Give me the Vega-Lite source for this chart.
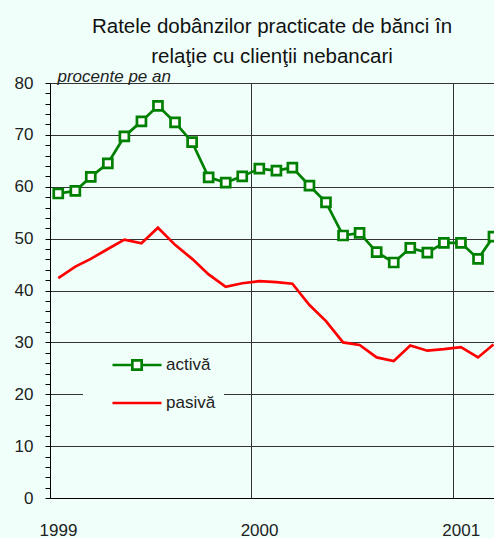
{
  "$schema": "https://vega.github.io/schema/vega-lite/v6.json",
  "width": 444,
  "height": 415,
  "autosize": {"type": "none"},
  "padding": {"left": 50, "top": 83, "right": 0, "bottom": 40},
  "background": "#f0fffa",
  "title": {
    "text": ["Ratele dobânzilor practicate de bănci în", "relaţie cu clienţii nebancari"],
    "font": "Liberation Sans",
    "fontSize": 20.5,
    "fontWeight": "normal",
    "color": "#111",
    "lineHeight": 30,
    "anchor": "middle",
    "offset": 0
  },
  "config": {
    "view": {"fill": "#f0fffa", "stroke": null},
    "font": "Liberation Sans"
  },
  "data": {
    "values": [
      {"date": "1999-01-16", "serie": "activă", "rata": 58.7},
      {"date": "1999-02-16", "serie": "activă", "rata": 59.2},
      {"date": "1999-03-16", "serie": "activă", "rata": 61.9},
      {"date": "1999-04-16", "serie": "activă", "rata": 64.5},
      {"date": "1999-05-16", "serie": "activă", "rata": 69.7},
      {"date": "1999-06-16", "serie": "activă", "rata": 72.6},
      {"date": "1999-07-16", "serie": "activă", "rata": 75.6},
      {"date": "1999-08-16", "serie": "activă", "rata": 72.4},
      {"date": "1999-09-16", "serie": "activă", "rata": 68.6},
      {"date": "1999-10-16", "serie": "activă", "rata": 61.8},
      {"date": "1999-11-16", "serie": "activă", "rata": 60.8},
      {"date": "1999-12-16", "serie": "activă", "rata": 62.0},
      {"date": "2000-01-16", "serie": "activă", "rata": 63.5},
      {"date": "2000-02-16", "serie": "activă", "rata": 63.1},
      {"date": "2000-03-16", "serie": "activă", "rata": 63.7},
      {"date": "2000-04-16", "serie": "activă", "rata": 60.2},
      {"date": "2000-05-16", "serie": "activă", "rata": 57.0},
      {"date": "2000-06-16", "serie": "activă", "rata": 50.6},
      {"date": "2000-07-16", "serie": "activă", "rata": 51.1},
      {"date": "2000-08-16", "serie": "activă", "rata": 47.4},
      {"date": "2000-09-16", "serie": "activă", "rata": 45.4},
      {"date": "2000-10-16", "serie": "activă", "rata": 48.2},
      {"date": "2000-11-16", "serie": "activă", "rata": 47.3},
      {"date": "2000-12-16", "serie": "activă", "rata": 49.2},
      {"date": "2001-01-16", "serie": "activă", "rata": 49.2},
      {"date": "2001-02-16", "serie": "activă", "rata": 46.1},
      {"date": "2001-03-16", "serie": "activă", "rata": 50.4},
      {"date": "1999-01-16", "serie": "pasivă", "rata": 42.4},
      {"date": "1999-02-16", "serie": "pasivă", "rata": 44.6},
      {"date": "1999-03-16", "serie": "pasivă", "rata": 46.1},
      {"date": "1999-04-16", "serie": "pasivă", "rata": 48.0},
      {"date": "1999-05-16", "serie": "pasivă", "rata": 49.8},
      {"date": "1999-06-16", "serie": "pasivă", "rata": 49.1},
      {"date": "1999-07-16", "serie": "pasivă", "rata": 52.1},
      {"date": "1999-08-16", "serie": "pasivă", "rata": 48.8},
      {"date": "1999-09-16", "serie": "pasivă", "rata": 46.1},
      {"date": "1999-10-16", "serie": "pasivă", "rata": 43.1},
      {"date": "1999-11-16", "serie": "pasivă", "rata": 40.7},
      {"date": "1999-12-16", "serie": "pasivă", "rata": 41.4},
      {"date": "2000-01-16", "serie": "pasivă", "rata": 41.8},
      {"date": "2000-02-16", "serie": "pasivă", "rata": 41.6},
      {"date": "2000-03-16", "serie": "pasivă", "rata": 41.3},
      {"date": "2000-04-16", "serie": "pasivă", "rata": 37.2},
      {"date": "2000-05-16", "serie": "pasivă", "rata": 34.1},
      {"date": "2000-06-16", "serie": "pasivă", "rata": 30.0},
      {"date": "2000-07-16", "serie": "pasivă", "rata": 29.5},
      {"date": "2000-08-16", "serie": "pasivă", "rata": 27.1},
      {"date": "2000-09-16", "serie": "pasivă", "rata": 26.4},
      {"date": "2000-10-16", "serie": "pasivă", "rata": 29.4},
      {"date": "2000-11-16", "serie": "pasivă", "rata": 28.4},
      {"date": "2000-12-16", "serie": "pasivă", "rata": 28.7},
      {"date": "2001-01-16", "serie": "pasivă", "rata": 29.1},
      {"date": "2001-02-16", "serie": "pasivă", "rata": 27.1},
      {"date": "2001-03-16", "serie": "pasivă", "rata": 29.6}
    ]
  },
  "encoding": {
    "x": {
      "field": "date",
      "type": "temporal",
      "scale": {"type": "utc", "domain": [{"year": 1999, "month": 1, "date": 1, "utc": true}, {"year": 2001, "month": 3, "date": 17, "utc": true}]},
      "axis": {
        "title": null,
        "values": [
          {"year": 1999, "month": 1, "date": 1, "utc": true},
          {"year": 2000, "month": 1, "date": 1, "utc": true},
          {"year": 2001, "month": 1, "date": 1, "utc": true}
        ],
        "format": "%Y",
        "grid": true,
        "gridColor": "#333",
        "gridWidth": 1,
        "gridOpacity": 1,
        "ticks": false,
        "tickSize": 0,
        "labelPadding": 24,
        "labelOffset": 8,
        "labelFontSize": 17,
        "labelColor": "#222",
        "labelOverlap": false,
        "labelFlush": false,
        "domainColor": "#000",
        "domainWidth": 1
      }
    },
    "y": {
      "field": "rata",
      "type": "quantitative",
      "scale": {"domain": [0, 80], "nice": false, "zero": true},
      "axis": {
        "title": "procente pe an",
        "titleAngle": 0,
        "titleAlign": "left",
        "titleBaseline": "alphabetic",
        "titleX": 7,
        "titleY": -2,
        "titleFontStyle": "italic",
        "titleFontWeight": "normal",
        "titleFontSize": 17,
        "titleColor": "#222",
        "values": [0,2,4,6,8,10,12,14,16,18,20,22,24,26,28,30,32,34,36,38,40,42,44,46,48,50,52,54,56,58,60,62,64,66,68,70,72,74,76,78,80],
        "labelExpr": "datum.value % 10 === 0 ? datum.label : ''",
        "labelOverlap": false,
        "labelFlush": false,
        "labelFontSize": 17,
        "labelColor": "#222",
        "labelPadding": 12,
        "grid": true,
        "gridColor": "#333",
        "gridWidth": 1,
        "gridOpacity": {"condition": {"test": "datum.value % 10 === 0 && datum.value > 0", "value": 1}, "value": 0},
        "tickSize": 5,
        "tickColor": "#000",
        "domainColor": "#000"
      }
    }
  },
  "layer": [
    {
      "mark": {"type": "line", "strokeWidth": 2.7},
      "encoding": {
        "color": {
          "field": "serie",
          "type": "nominal",
          "scale": {"domain": ["activă", "pasivă"], "range": ["#008000", "#ff0000"]},
          "legend": {
            "title": null,
            "orient": "none",
            "legendX": 33,
            "legendY": 264,
            "padding": 8,
            "fillColor": "#f0fffa",
            "symbolSize": 2401,
            "clipHeight": 20,
            "rowPadding": 18,
            "symbolOffset": 20,
            "symbolStrokeWidth": 2.7,
            "labelOffset": 3,
            "labelFontSize": 17,
            "labelColor": "#222",
            "labelExpr": "datum.label + '          '",
            "encode": {
              "symbols": {
                "update": {
                  "shape": {"signal": "datum.value === 'activă' ? 'M-1,0H-0.19M0.19,0H1M-0.19,-0.19H0.19V0.19H-0.19Z' : 'M-1,0H1'"},
                  "fill": {"signal": "datum.value === 'activă' ? 'white' : 'transparent'"}
                }
              }
            }
          }
        }
      }
    },
    {
      "transform": [{"filter": "datum.serie === 'activă'"}],
      "mark": {"type": "point", "shape": "square", "size": 81, "filled": true, "fill": "white", "stroke": "#008000", "strokeWidth": 2.7, "opacity": 1}
    }
  ]
}
